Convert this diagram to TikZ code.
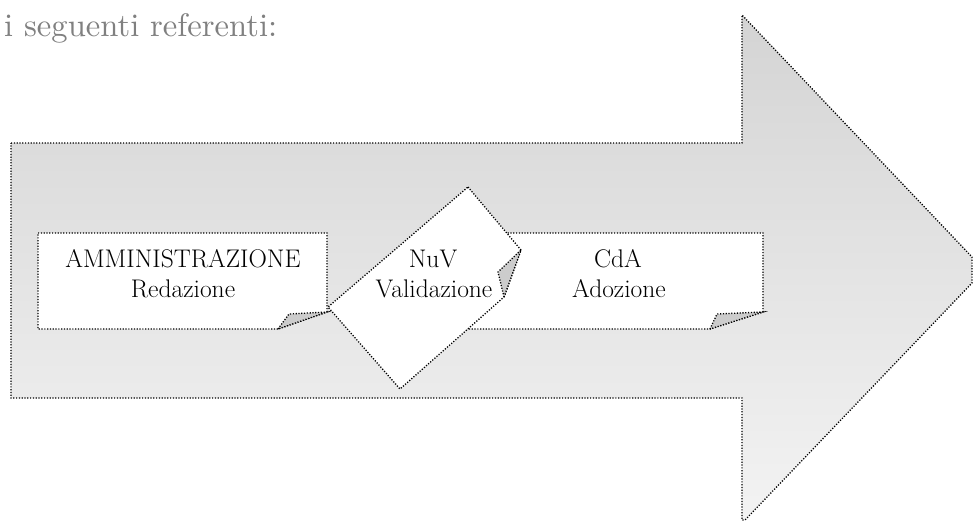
\documentclass[tikz,border=0pt]{standalone}
\usepackage{fontspec}
\pgfdeclareverticalshading{arrowshade}{100bp}{color(0bp)=(white); color(18bp)=(black!3); color(100bp)=(black!23)}
\begin{document}
\begin{tikzpicture}[x=1pt,y=-1pt,
  dotline/.style={draw=black,line width=1.3pt,dash pattern=on 1.2pt off 1.6pt},
  card/.style={dotline,fill=white},
  flap/.style={dotline,fill=black!20},
  lbl/.style={font=\fontsize{25.5}{30}\selectfont,align=center,inner sep=0pt,anchor=base}]
\useasboundingbox (0,0) rectangle (973,520);
% title
\node[anchor=base west,inner sep=0pt,text=black!50] (title) at (4,36)
  {\resizebox{273pt}{!}{i seguenti referenti:}};
% big arrow
\path[dotline,shading=arrowshade]
  (11,143) -- (742,143) -- (742,15) -- (972,257) -- (972,283) -- (745,520)
  -- (742,520) -- (742,398) -- (11,398) -- cycle;
% box 1
\draw[card] (38,233) -- (327,233) -- (327,312) -- (278,329) -- (38,329) -- cycle;
\draw[flap] (278,329) -- (289,314) -- (327,312) -- cycle;
% box 3
\draw[card] (460,233) -- (763,233) -- (763,312) -- (710,329) -- (460,329) -- cycle;
\draw[flap] (710,329) -- (717,314) -- (763,312) -- cycle;
% rotated card
\draw[card] (468,187) -- (521,250) -- (504,297) -- (400,389) -- (328,307) -- cycle;
\draw[flap] (504,297) -- (498,272) -- (521,250) -- cycle;
% labels
\node[lbl] (amm) at (183,267) {AMMINISTRAZIONE};
\node[lbl] (red) at (183,297) {Redazione};
\node[lbl] (nuv) at (433,267) {NuV};
\node[lbl] (val) at (434,297) {Validazione};
\node[lbl] (cda) at (618,267) {CdA};
\node[lbl] (ado) at (619,297) {Adozione};
\end{tikzpicture}
\end{document}
